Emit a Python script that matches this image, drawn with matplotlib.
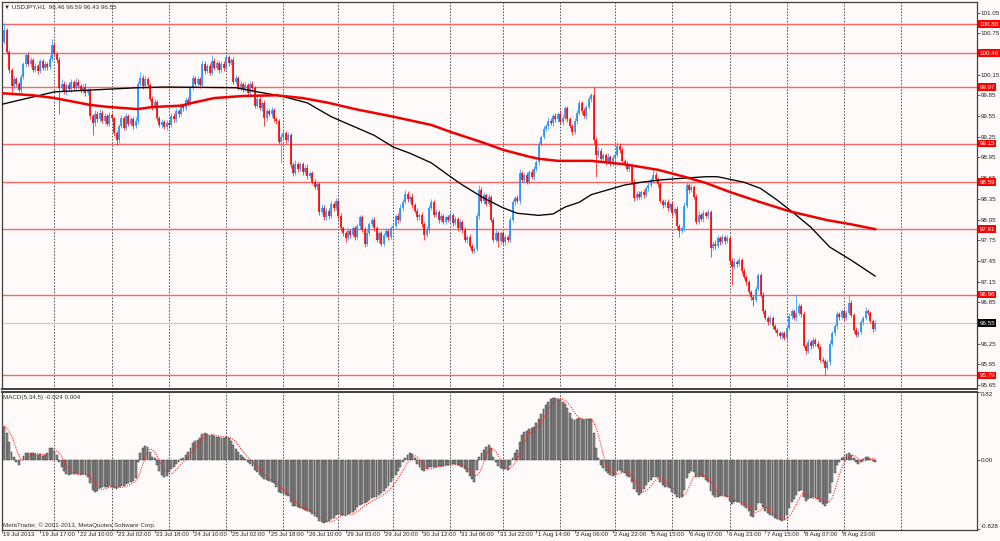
import matplotlib
matplotlib.use('Agg')
import matplotlib.pyplot as plt
import matplotlib.transforms as mtrans
import numpy as np
import pandas as pd

plt.rcParams['font.family'] = ['Liberation Sans', 'DejaVu Sans']

# ---------------- data ----------------
header_text = "\u25bc USDJPY,H1  96.46 96.59 96.43 96.55"
macd_text = "MACD(5,34,5) -0.024 0.004"
footer_text = "MetaTrader, \u00a9 2001-2013, MetaQuotes Software Corp."

first_open = 100.50
closes = [
    100.62, 100.80, 100.48, 100.22, 99.98, 100.08, 100.02, 99.93, 100.12, 100.30,
    100.44, 100.30, 100.36, 100.22, 100.28, 100.20, 100.34, 100.25, 100.30, 100.26,
    100.38, 100.58, 100.45, 100.36, 99.95, 100.02, 99.90, 100.00, 99.94, 100.04,
    99.96, 100.05, 99.98, 99.92, 99.97, 99.88, 99.92, 99.55, 99.45, 99.58,
    99.50, 99.60, 99.48, 99.55, 99.44, 99.56, 99.52, 99.30, 99.20, 99.40,
    99.52, 99.38, 99.55, 99.44, 99.50, 99.40, 99.48, 100.02, 100.10, 99.98,
    100.08, 100.00, 99.80, 99.68, 99.75, 99.52, 99.42, 99.46, 99.39, 99.45,
    99.42, 99.55, 99.50, 99.62, 99.58, 99.70, 99.66, 99.78, 99.74, 99.95,
    100.10, 100.02, 100.08, 100.00, 100.30, 100.20, 100.28, 100.18, 100.35, 100.25,
    100.32, 100.22, 100.30, 100.24, 100.40, 100.32, 100.36, 100.05, 100.10, 99.96,
    100.02, 99.94, 100.00, 99.88, 100.02, 99.95, 99.70, 99.80, 99.66, 99.74,
    99.52, 99.62, 99.58, 99.64, 99.50, 99.48, 99.18, 99.24, 99.30, 99.20,
    99.28, 98.84, 98.72, 98.86, 98.78, 98.85, 98.74, 98.80, 98.68, 98.72,
    98.60, 98.52, 98.56, 98.16, 98.22, 98.08, 98.18, 98.10, 98.28, 98.22,
    98.32, 98.10, 97.92, 97.85, 97.78, 97.88, 97.82, 97.92, 97.80, 97.95,
    98.08, 97.90, 97.70, 97.86, 97.98, 98.05, 97.92, 97.75, 97.85, 97.70,
    97.82, 97.88, 97.80, 97.92, 97.96, 98.10, 98.04, 98.22, 98.30, 98.42,
    98.34, 98.38, 98.26, 98.18, 98.08, 98.12, 97.98, 97.82, 97.90, 98.22,
    98.30, 98.12, 98.16, 98.04, 98.10, 98.02, 98.08, 98.05, 98.12, 98.00,
    98.06, 97.92, 98.02, 97.90, 97.75, 97.80, 97.66, 97.60, 97.62, 98.10,
    98.48, 98.32, 98.40, 98.28, 98.38, 98.05, 97.76, 97.86, 97.74, 97.85,
    97.72, 97.80, 97.76, 98.05, 98.30, 98.36, 98.32, 98.72, 98.62, 98.70,
    98.60, 98.74, 98.66, 98.78, 98.88, 99.15, 99.25, 99.36, 99.40, 99.48,
    99.45, 99.55, 99.50, 99.58, 99.46, 99.52, 99.66, 99.50, 99.40, 99.32,
    99.48, 99.60, 99.74, 99.62, 99.55, 99.68, 99.80, 99.86, 99.20, 98.98,
    99.05, 98.92, 98.98, 98.88, 98.96, 98.86, 98.94, 98.98, 99.12, 99.06,
    98.90, 98.86, 98.78, 98.82, 98.60, 98.36, 98.42, 98.38, 98.45, 98.40,
    98.50, 98.55, 98.62, 98.70, 98.64, 98.56, 98.32, 98.26, 98.30, 98.22,
    98.28, 98.14, 98.20, 97.95, 97.88, 97.92, 98.25, 98.55, 98.48, 98.52,
    98.38, 98.02, 98.12, 98.06, 98.15, 98.10, 98.16, 97.64, 97.70, 97.66,
    97.78, 97.72, 97.80, 97.74, 97.78, 97.45, 97.36, 97.44, 97.40, 97.46,
    97.30, 97.22, 97.14, 97.00, 96.92, 96.88, 97.05, 97.24, 96.96, 96.72,
    96.62, 96.56, 96.62, 96.50, 96.45, 96.40, 96.36, 96.40, 96.33, 96.48,
    96.65, 96.72, 96.62, 96.70, 96.80, 96.68, 96.22, 96.14, 96.28, 96.22,
    96.30, 96.25, 96.20, 96.02, 96.00, 95.90, 95.98, 96.25, 96.40, 96.50,
    96.68, 96.64, 96.72, 96.62, 96.70, 96.84, 96.66, 96.45, 96.38, 96.42,
    96.56, 96.62, 96.72, 96.70, 96.58, 96.46, 96.55,
]
# wick lengths above / below the body, in hundredths of a yen
upper_wick = [
    4, 10, 3, 2, 3, 5, 3, 2, 4, 3,  3, 4, 5, 3, 4, 2, 4, 3, 4, 3,
    5, 8, 4, 3, 5, 6, 4, 3, 5, 4,  3, 5, 4, 3, 4, 6, 3, 4, 3, 5,
    4, 5, 3, 4, 3, 5, 4, 2, 3, 4,  5, 3, 4, 3, 4, 3, 5, 4, 9, 4,
    5, 4, 3, 4, 5, 3, 3, 4, 3, 4,  3, 5, 4, 5, 3, 4, 3, 5, 4, 4,
    4, 3, 5, 3, 6, 4, 3, 4, 8, 4,  4, 3, 5, 4, 5, 4, 3, 4, 5, 3,
    4, 3, 5, 3, 4, 4, 3, 5, 4, 3,  4, 5, 3, 4, 3, 4, 3, 5, 4, 3,
    4, 3, 4, 5, 3, 4, 3, 4, 5, 3,  4, 3, 4, 3, 5, 4, 3, 4, 4, 3,
    4, 3, 4, 3, 4, 5, 3, 4, 3, 4,  4, 3, 4, 5, 3, 4, 3, 4, 3, 4,
    3, 4, 3, 4, 5, 3, 4, 5, 4, 6,  4, 3, 5, 3, 4, 3, 4, 3, 5, 4,
    4, 3, 4, 3, 5, 3, 4, 3, 4, 3,  4, 3, 4, 3, 4, 3, 4, 3, 3, 4,
    7, 4, 5, 3, 4, 3, 4, 5, 3, 4,  3, 4, 3, 4, 5, 3, 4, 6, 4, 3,
    4, 3, 4, 5, 3, 4, 3, 4, 3, 5,  4, 3, 4, 3, 5, 4, 4, 3, 4, 3,
    4, 3, 4, 3, 4, 3, 4, 3, 11, 4, 5, 3, 4, 3, 5, 3, 4, 3, 5, 4,
    4, 3, 4, 3, 4, 3, 4, 5, 3, 4,  3, 4, 3, 8, 4, 3, 4, 3, 4, 5,
    3, 4, 3, 4, 3, 4, 5, 5, 3, 4,  3, 4, 5, 3, 4, 3, 4, 3, 4, 5,
    4, 3, 4, 3, 4, 3, 4, 5, 3, 4,  3, 4, 3, 4, 3, 4, 3, 4, 3, 4,
    4, 3, 4, 3, 4, 3, 4, 3, 3, 4,  4, 3, 4, 26, 4, 3, 4, 3, 4, 3,
    4, 3, 4, 3, 4, 3, 4, 5, 3, 4,  5, 3, 4, 3, 4, 12, 4, 3, 4, 3,
    4, 3, 6, 4, 3, 3, 4,
]
lower_wick = [
    4, 3, 3, 4, 13, 3, 4, 3, 4, 3,  4, 3, 4, 3, 3, 4, 3, 4, 3, 4,
    3, 4, 3, 4, 37, 4, 3, 4, 3, 4,  3, 4, 3, 4, 3, 4, 3, 4, 18, 4,
    3, 4, 3, 4, 3, 4, 3, 4, 7, 4,  3, 4, 3, 4, 3, 4, 3, 4, 3, 4,
    3, 4, 3, 4, 3, 4, 3, 4, 3, 4,  4, 3, 4, 3, 4, 3, 4, 3, 4, 3,
    3, 4, 3, 4, 3, 4, 3, 4, 3, 4,  3, 4, 3, 4, 3, 4, 3, 4, 3, 4,
    3, 4, 3, 4, 3, 4, 3, 4, 3, 4,  12, 4, 3, 4, 3, 4, 4, 31, 3, 4,
    3, 4, 4, 3, 4, 3, 4, 3, 4, 3,  4, 3, 4, 4, 3, 4, 3, 4, 3, 4,
    3, 4, 3, 4, 6, 3, 4, 3, 4, 3,  4, 3, 5, 3, 4, 3, 4, 3, 4, 3,
    4, 3, 4, 3, 4, 3, 4, 3, 4, 3,  4, 3, 4, 3, 4, 3, 4, 7, 3, 4,
    3, 4, 3, 4, 3, 4, 3, 4, 3, 4,  3, 4, 3, 4, 3, 4, 3, 4, 4, 3,
    4, 3, 4, 3, 4, 3, 4, 3, 9, 4,  3, 4, 3, 4, 3, 4, 3, 4, 3, 4,
    3, 4, 3, 4, 3, 4, 3, 4, 3, 4,  3, 4, 3, 4, 3, 4, 3, 4, 3, 4,
    3, 4, 3, 4, 3, 4, 3, 4, 5, 31, 3, 4, 3, 4, 3, 4, 3, 4, 3, 4,
    3, 4, 3, 4, 3, 4, 3, 4, 3, 4,  3, 4, 3, 4, 3, 4, 3, 4, 3, 4,
    3, 4, 3, 4, 8, 3, 4, 3, 4, 3,  4, 3, 4, 3, 4, 3, 4, 14, 3, 4,
    3, 4, 3, 4, 3, 4, 26, 3, 4, 3,  4, 3, 4, 3, 4, 8, 3, 4, 3, 4,
    3, 4, 3, 4, 3, 4, 3, 4, 3, 4,  3, 4, 3, 4, 3, 4, 3, 4, 3, 4,
    3, 4, 3, 4, 3, 10, 3, 4, 3, 4, 3, 4, 3, 4, 3, 4, 3, 4, 3, 4,
    3, 4, 3, 4, 3, 4, 3,
]

ma_black_bars = [0, 22, 57, 68, 98, 107, 117, 128, 138, 148, 156, 164, 171, 180, 188,
                 193, 202, 210, 216, 225, 231, 236, 242, 247, 254, 261, 268, 275, 282,
                 295, 300, 311, 318, 325, 332, 339, 347, 356, 366]
ma_black_vals = [99.72, 99.90, 99.96, 99.97, 99.96, 99.90, 99.84, 99.74, 99.54, 99.39,
                 99.27, 99.10, 99.01, 98.87, 98.67, 98.55, 98.36, 98.22, 98.14, 98.11,
                 98.13, 98.23, 98.30, 98.41, 98.48, 98.55, 98.59, 98.62, 98.64, 98.67,
                 98.67, 98.59, 98.50, 98.33, 98.14, 97.94, 97.65, 97.46, 97.23]
ma_red_bars = [0, 13, 22, 37, 45, 57, 63, 75, 81, 89, 101, 115, 126, 137, 148, 164, 180,
               188, 202, 210, 221, 225, 233, 247, 261, 275, 286, 295, 305, 318, 330, 346,
               356, 366]
ma_red_vals = [99.88, 99.85, 99.81, 99.71, 99.68, 99.65, 99.68, 99.70, 99.75, 99.81,
               99.84, 99.85, 99.81, 99.74, 99.65, 99.54, 99.42, 99.32, 99.16, 99.06,
               98.96, 98.93, 98.90, 98.90, 98.85, 98.77, 98.67, 98.58, 98.45, 98.30,
               98.17, 98.04, 97.98, 97.91]

levels = [100.88, 100.46, 99.97, 99.15, 98.59, 97.91, 96.96, 95.79]
level_labels = ["100.88", "100.46", "99.97", "99.15", "98.59", "97.91", "96.96", "95.79"]
last_price = 96.55
last_label = "96.55"
price_ticks = [101.05, 100.75, 100.15, 99.85, 99.55, 99.25, 98.95, 98.65, 98.35,
               98.05, 97.75, 97.45, 97.15, 96.85, 96.25, 95.95, 95.65]

macd = [
    0.42, 0.40, 0.33, 0.22, 0.10, 0.04, -0.03, -0.06, 0.00, 0.05,
    0.09, 0.09, 0.08, 0.08, 0.07, 0.06, 0.07, 0.05, 0.06, 0.08,
    0.14, 0.15, 0.11, 0.06, -0.03, -0.08, -0.13, -0.17, -0.18, -0.17,
    -0.17, -0.16, -0.17, -0.18, -0.17, -0.18, -0.20, -0.28, -0.36, -0.38,
    -0.37, -0.34, -0.33, -0.33, -0.32, -0.31, -0.32, -0.34, -0.35, -0.33,
    -0.31, -0.31, -0.29, -0.28, -0.26, -0.25, -0.22, -0.02, 0.08, 0.15,
    0.17, 0.16, 0.10, 0.04, 0.02, -0.06, -0.13, -0.18, -0.20, -0.19,
    -0.15, -0.11, -0.09, -0.05, -0.02, 0.01, 0.03, 0.06, 0.10, 0.15,
    0.21, 0.23, 0.24, 0.27, 0.31, 0.32, 0.31, 0.29, 0.30, 0.29,
    0.28, 0.28, 0.27, 0.27, 0.28, 0.27, 0.23, 0.18, 0.13, 0.10,
    0.06, 0.04, 0.01, -0.03, -0.05, -0.07, -0.12, -0.15, -0.18, -0.20,
    -0.23, -0.24, -0.25, -0.26, -0.28, -0.33, -0.38, -0.40, -0.41, -0.42,
    -0.43, -0.50, -0.55, -0.56, -0.57, -0.58, -0.59, -0.60, -0.62, -0.63,
    -0.65, -0.67, -0.69, -0.74, -0.75, -0.76, -0.75, -0.74, -0.71, -0.70,
    -0.66, -0.65, -0.66, -0.66, -0.67, -0.65, -0.64, -0.63, -0.60, -0.57,
    -0.54, -0.53, -0.52, -0.50, -0.48, -0.46, -0.45, -0.44, -0.42, -0.40,
    -0.37, -0.34, -0.31, -0.27, -0.22, -0.18, -0.13, -0.08, -0.03, 0.02,
    0.06, 0.09, 0.07, 0.02, -0.05, -0.09, -0.12, -0.13, -0.11, -0.09,
    -0.08, -0.08, -0.08, -0.07, -0.07, -0.07, -0.06, -0.06, -0.06, -0.05,
    -0.05, -0.06, -0.07, -0.08, -0.11, -0.15, -0.19, -0.23, -0.26, -0.12,
    0.04, 0.08, 0.12, 0.16, 0.18, 0.14, 0.04, -0.02, -0.07, -0.10,
    -0.11, -0.11, -0.12, -0.06, 0.03, 0.08, 0.12, 0.22, 0.30, 0.34,
    0.35, 0.37, 0.38, 0.40, 0.44, 0.50, 0.55, 0.61, 0.66, 0.70,
    0.73, 0.75, 0.75, 0.74, 0.72, 0.70, 0.68, 0.63, 0.57, 0.50,
    0.48, 0.49, 0.51, 0.49, 0.48, 0.49, 0.50, 0.50, 0.33, 0.15,
    0.02, -0.06, -0.10, -0.13, -0.16, -0.18, -0.19, -0.18, -0.13, -0.12,
    -0.14, -0.16, -0.19, -0.21, -0.27, -0.35, -0.39, -0.42, -0.40, -0.35,
    -0.30, -0.27, -0.24, -0.20, -0.20, -0.21, -0.26, -0.30, -0.32, -0.33,
    -0.34, -0.38, -0.41, -0.44, -0.46, -0.45, -0.36, -0.22, -0.16, -0.13,
    -0.14, -0.20, -0.20, -0.19, -0.21, -0.24, -0.26, -0.37, -0.42, -0.45,
    -0.44, -0.43, -0.42, -0.43, -0.44, -0.49, -0.53, -0.51, -0.50, -0.51,
    -0.54, -0.56, -0.58, -0.62, -0.67, -0.69, -0.60, -0.52, -0.52, -0.57,
    -0.62, -0.64, -0.66, -0.68, -0.70, -0.71, -0.72, -0.73, -0.72, -0.66,
    -0.58, -0.51, -0.47, -0.42, -0.37, -0.36, -0.44, -0.49, -0.47, -0.46,
    -0.45, -0.46, -0.47, -0.51, -0.53, -0.55, -0.52, -0.40, -0.27, -0.16,
    -0.06, -0.02, 0.02, 0.04, 0.07, 0.09, 0.06, 0.02, -0.03, -0.05,
    -0.02, 0.01, 0.04, 0.04, 0.01, -0.01, -0.024,
]
macd_tick_vals = [0.82, 0.00, -0.828]
macd_tick_labels = ["0.82", "0.00", "-0.828"]

time_label_bars = list(range(0, 353, 16))
time_labels = ["19 Jul 2013", "19 Jul 17:00", "22 Jul 10:00", "23 Jul 02:00",
               "23 Jul 18:00", "24 Jul 10:00", "25 Jul 02:00", "25 Jul 18:00",
               "26 Jul 10:00", "29 Jul 03:00", "29 Jul 20:00", "30 Jul 12:00",
               "31 Jul 06:00", "31 Jul 22:00", "1 Aug 14:00", "2 Aug 06:00",
               "2 Aug 22:00", "5 Aug 15:00", "6 Aug 07:00", "6 Aug 23:00",
               "7 Aug 15:00", "8 Aug 07:00", "8 Aug 23:00"]
day_start_bars = [22, 46, 70, 94, 118, 141, 164, 188, 210, 234, 257, 281, 305, 329, 353, 377]

# ---------------- figure ----------------
BG = '#FFFAFA'
BULL = '#1E90FF'
BEAR = '#FF0000'
LEVEL = '#FF6464'
AXC = '#404040'
FS = 4.5
FS_TIME = 4.3

W, H = 1000, 541
fig = plt.figure(figsize=(10, 5.41), dpi=100, facecolor=BG)

def rect(x0, y0, x1, y1):
    return [x0 / W, 1 - y1 / H, (x1 - x0) / W, (y1 - y0) / H]

ax1 = fig.add_axes(rect(2, 2, 977, 389), facecolor=BG)
ax2 = fig.add_axes(rect(2, 391.5, 977, 530), facecolor=BG, sharex=ax1)

n = min(len(closes), len(upper_wick), len(lower_wick), len(macd))
c = np.array(closes[:n])
o = np.r_[first_open, c[:-1]]
hi = np.maximum(o, c) + np.array(upper_wick[:n]) / 100.0
lo = np.minimum(o, c) - np.array(lower_wick[:n]) / 100.0
x = np.arange(n)
up = c >= o
dn = ~up

xl = ((2 - 1.82) / 2.386, (977 - 1.82) / 2.386)
ax1.set_xlim(*xl)
ax1.set_ylim(96.55 - (389 - 323) / 69.0, 96.55 + (323 - 2) / 69.0)
ax2.set_ylim(-(530 - 460) / 83.0, (460 - 391.5) / 83.0)

grid_kw = dict(color='#505050', lw=0.7, ls=(0, (1.6, 1.6)), zorder=0.5)
for b in day_start_bars:
    ax1.axvline(b, **grid_kw)
    ax2.axvline(b, **grid_kw)

# horizontal levels
for lv in levels:
    ax1.axhline(lv, color=LEVEL, lw=1.0, zorder=1)
ax1.axhline(last_price, color='#C8C8C8', lw=0.8, zorder=1)

# candles
ax1.vlines(x[up], lo[up], hi[up], color=BULL, lw=0.5, zorder=2)
ax1.vlines(x[up], o[up], c[up], color=BULL, lw=1.2, zorder=2)
ax1.vlines(x[dn], lo[dn], hi[dn], color=BEAR, lw=0.5, zorder=2)
ax1.vlines(x[dn], c[dn], o[dn], color=BEAR, lw=1.2, zorder=2)

# moving averages
ax1.plot(ma_black_bars, ma_black_vals, color='black', lw=0.95, zorder=3)
ax1.plot(ma_red_bars, ma_red_vals, color='#F00000', lw=1.8, zorder=3)

# MACD
m = np.array(macd[:n])
signal = pd.Series(m).rolling(5, min_periods=1).mean().to_numpy()
ax2.bar(x, m, width=0.8, color='#8a8a8a', edgecolor='#3a3a3a', linewidth=0.35, zorder=2)
ax2.plot(x, signal, color='#FF2020', lw=0.8, ls=(0, (1.0, 1.2)), zorder=3)

# axes styling
for ax in (ax1, ax2):
    for s in ax.spines.values():
        s.set_color(AXC)
        s.set_linewidth(0.9)
    ax.yaxis.tick_right()
    ax.tick_params(axis='y', which='both', direction='out', length=1.8, width=0.6,
                   color=AXC, pad=0.6, labelsize=FS, labelcolor='#202020')
ax1.spines['bottom'].set_linewidth(1.4)
ax2.spines['top'].set_linewidth(1.4)

ax1.set_yticks(price_ticks)
ax1.set_yticklabels([f"{t:.2f}" for t in price_ticks])
ax1.tick_params(axis='x', which='both', bottom=False, labelbottom=False)

ax2.set_yticks(macd_tick_vals)
ax2.set_yticklabels(macd_tick_labels)
tl = ax2.get_yticklabels()
tl[0].set_va('top')
tl[-1].set_va('bottom')

ax2.set_xticks(time_label_bars)
ax2.set_xticklabels([])
ax2.tick_params(axis='x', direction='out', length=2.5, width=0.5, color=AXC)
tb = mtrans.blended_transform_factory(ax2.transData, ax2.transAxes)
for b, lab in zip(time_label_bars, time_labels):
    ax2.text(b + 0.6, -0.012, lab, transform=tb,
             ha='left', va='top', fontsize=FS_TIME, color='#202020', clip_on=False)

# price boxes on the right axis
bt = mtrans.blended_transform_factory(ax1.transAxes, ax1.transData)
for lv, lab in zip(levels, level_labels):
    ax1.text(1.0 + 2.5 / 975, lv, lab, transform=bt, ha='left', va='center',
             fontsize=FS, color='white', clip_on=False, zorder=10,
             bbox=dict(boxstyle='square,pad=0.2', fc='#FF0000', ec='none'))
ax1.text(1.0 + 2.5 / 975, last_price, last_label, transform=bt, ha='left', va='center',
         fontsize=FS, color='white', clip_on=False, zorder=10,
         bbox=dict(boxstyle='square,pad=0.2', fc='black', ec='none'))

# texts
fig.text(4 / W, 1 - 6.5 / H, header_text, ha='left', va='center', fontsize=FS, color='#303030')
fig.text(3 / W, 1 - 397 / H, macd_text, ha='left', va='center', fontsize=FS, color='#303030')
fig.text(3 / W, 1 - 525 / H, footer_text, ha='left', va='center', fontsize=FS, color='#303030')

fig.savefig('out.png', dpi=100, facecolor=BG)
